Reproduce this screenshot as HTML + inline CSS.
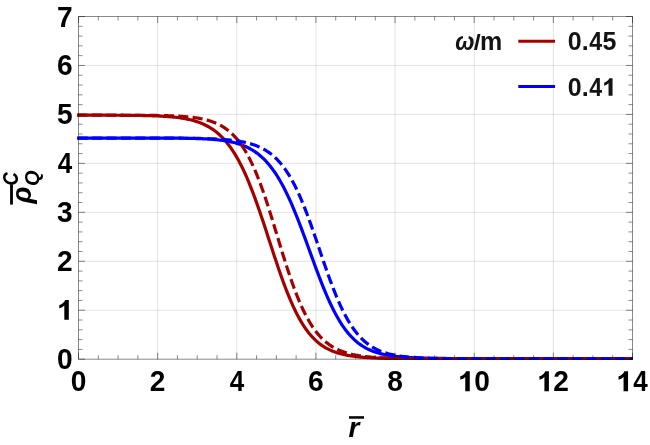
<!DOCTYPE html>
<html><head><meta charset="utf-8"><title>plot</title>
<style>html,body{margin:0;padding:0;background:#fff;width:650px;height:445px;overflow:hidden}body{position:relative;font-family:"Liberation Sans",sans-serif}</style></head>
<body>
<svg width="650" height="445" viewBox="0 0 650 445" style="position:absolute;left:0;top:0;will-change:transform">
<rect width="650" height="445" fill="#fff"/>
<path d="M157.64,16.5V359.2M236.79,16.5V359.2M315.93,16.5V359.2M395.07,16.5V359.2M474.21,16.5V359.2M553.36,16.5V359.2M78.5,310.24H632.5M78.5,261.29H632.5M78.5,212.33H632.5M78.5,163.37H632.5M78.5,114.41H632.5M78.5,65.46H632.5" stroke="#000" stroke-opacity="0.115" stroke-width="1" fill="none"/>
<clipPath id="c"><rect x="77.1" y="16.5" width="555.9" height="343.40"/></clipPath>
<g clip-path="url(#c)" fill="none" stroke-width="3.2" stroke-linejoin="round">
<path d="M77.00,115.19 L78.50,115.19 L79.49,115.19 L80.48,115.19 L81.47,115.19 L82.46,115.19 L83.45,115.19 L84.44,115.19 L85.42,115.20 L86.41,115.20 L87.40,115.20 L88.39,115.20 L89.38,115.20 L90.37,115.20 L91.36,115.20 L92.35,115.20 L93.34,115.20 L94.33,115.20 L95.32,115.20 L96.31,115.21 L97.30,115.21 L98.29,115.21 L99.28,115.21 L100.26,115.21 L101.25,115.21 L102.24,115.22 L103.23,115.22 L104.22,115.22 L105.21,115.22 L106.20,115.22 L107.19,115.23 L108.18,115.23 L109.17,115.23 L110.16,115.23 L111.15,115.24 L112.14,115.24 L113.12,115.24 L114.11,115.25 L115.10,115.25 L116.09,115.26 L117.08,115.26 L118.07,115.27 L119.06,115.27 L120.05,115.28 L121.04,115.28 L122.03,115.29 L123.02,115.29 L124.01,115.30 L125.00,115.31 L125.99,115.31 L126.97,115.32 L127.96,115.33 L128.95,115.34 L129.94,115.35 L130.93,115.36 L131.92,115.37 L132.91,115.38 L133.90,115.39 L134.89,115.40 L135.88,115.41 L136.87,115.43 L137.86,115.44 L138.85,115.46 L139.84,115.47 L140.82,115.49 L141.81,115.51 L142.80,115.53 L143.79,115.55 L144.78,115.57 L145.77,115.59 L146.76,115.61 L147.75,115.64 L148.74,115.66 L149.73,115.69 L150.72,115.72 L151.71,115.75 L152.70,115.78 L153.69,115.82 L154.68,115.85 L155.66,115.89 L156.65,115.93 L157.64,115.98 L158.63,116.02 L159.62,116.07 L160.61,116.12 L161.60,116.17 L162.59,116.23 L163.58,116.28 L164.57,116.35 L165.56,116.41 L166.55,116.48 L167.54,116.55 L168.52,116.63 L169.51,116.71 L170.50,116.79 L171.49,116.88 L172.48,116.97 L173.47,117.07 L174.46,117.17 L175.45,117.28 L176.44,117.40 L177.43,117.52 L178.42,117.64 L179.41,117.78 L180.40,117.92 L181.39,118.07 L182.38,118.22 L183.36,118.38 L184.35,118.56 L185.34,118.74 L186.33,118.93 L187.32,119.13 L188.31,119.33 L189.30,119.55 L190.29,119.78 L191.28,120.03 L192.27,120.28 L193.26,120.55 L194.25,120.83 L195.24,121.12 L196.22,121.43 L197.21,121.76 L198.20,122.09 L199.19,122.45 L200.18,122.82 L201.17,123.21 L202.16,123.62 L203.15,124.05 L204.14,124.50 L205.13,124.97 L206.12,125.46 L207.11,125.98 L208.10,126.52 L209.09,127.08 L210.07,127.67 L211.06,128.29 L212.05,128.93 L213.04,129.60 L214.03,130.30 L215.02,131.04 L216.01,131.80 L217.00,132.60 L217.99,133.43 L218.98,134.30 L219.97,135.20 L220.96,136.14 L221.95,137.12 L222.94,138.14 L223.93,139.20 L224.91,140.31 L225.90,141.45 L226.89,142.64 L227.88,143.88 L228.87,145.17 L229.86,146.50 L230.85,147.88 L231.84,149.31 L232.83,150.79 L233.82,152.32 L234.81,153.91 L235.80,155.55 L236.79,157.24 L237.78,158.99 L238.76,160.79 L239.75,162.65 L240.74,164.56 L241.73,166.53 L242.72,168.56 L243.71,170.64 L244.70,172.78 L245.69,174.98 L246.68,177.23 L247.67,179.54 L248.66,181.90 L249.65,184.31 L250.64,186.78 L251.62,189.30 L252.61,191.87 L253.60,194.48 L254.59,197.14 L255.58,199.85 L256.57,202.60 L257.56,205.39 L258.55,208.22 L259.54,211.08 L260.53,213.98 L261.52,216.90 L262.51,219.85 L263.50,222.83 L264.49,225.83 L265.48,228.84 L266.46,231.86 L267.45,234.90 L268.44,237.94 L269.43,240.99 L270.42,244.03 L271.41,247.08 L272.40,250.11 L273.39,253.13 L274.38,256.13 L275.37,259.12 L276.36,262.08 L277.35,265.02 L278.34,267.93 L279.32,270.81 L280.31,273.65 L281.30,276.46 L282.29,279.22 L283.28,281.94 L284.27,284.61 L285.26,287.24 L286.25,289.81 L287.24,292.33 L288.23,294.80 L289.22,297.22 L290.21,299.58 L291.20,301.87 L292.19,304.12 L293.18,306.30 L294.16,308.42 L295.15,310.48 L296.14,312.48 L297.13,314.42 L298.12,316.30 L299.11,318.12 L300.10,319.88 L301.09,321.58 L302.08,323.22 L303.07,324.81 L304.06,326.33 L305.05,327.80 L306.04,329.22 L307.02,330.58 L308.01,331.89 L309.00,333.14 L309.99,334.35 L310.98,335.50 L311.97,336.61 L312.96,337.67 L313.95,338.69 L314.94,339.66 L315.93,340.59 L316.92,341.48 L317.91,342.33 L318.90,343.14 L319.89,343.91 L320.88,344.65 L321.86,345.36 L322.85,346.03 L323.84,346.67 L324.83,347.28 L325.82,347.86 L326.81,348.41 L327.80,348.93 L328.79,349.43 L329.78,349.91 L330.77,350.36 L331.76,350.79 L332.75,351.20 L333.74,351.59 L334.73,351.96 L335.71,352.31 L336.70,352.64 L337.69,352.95 L338.68,353.25 L339.67,353.54 L340.66,353.81 L341.65,354.06 L342.64,354.31 L343.63,354.54 L344.62,354.75 L345.61,354.96 L346.60,355.16 L347.59,355.34 L348.57,355.52 L349.56,355.69 L350.55,355.85 L351.54,356.00 L352.53,356.14 L353.52,356.27 L354.51,356.40 L355.50,356.52 L356.49,356.64 L357.48,356.75 L358.47,356.85 L359.46,356.95 L360.45,357.04 L361.44,357.13 L362.43,357.21 L363.41,357.29 L364.40,357.36 L365.39,357.43 L366.38,357.50 L367.37,357.56 L368.36,357.62 L369.35,357.68 L370.34,357.74 L371.33,357.79 L372.32,357.84 L373.31,357.88 L374.30,357.93 L375.29,357.97 L376.27,358.01 L377.26,358.04 L378.25,358.08 L379.24,358.11 L380.23,358.14 L381.22,358.17 L382.21,358.20 L383.20,358.23 L384.19,358.26 L385.18,358.28 L386.17,358.30 L387.16,358.32 L388.15,358.35 L389.14,358.37 L390.12,358.38 L391.11,358.40 L392.10,358.42 L393.09,358.43 L394.08,358.45 L395.07,358.46 L396.06,358.48 L397.05,358.49 L398.04,358.50 L399.03,358.52 L400.02,358.53 L401.01,358.54 L402.00,358.55 L402.99,358.56 L403.97,358.57 L404.96,358.57 L405.95,358.58 L406.94,358.59 L407.93,358.60 L408.92,358.61 L409.91,358.61 L410.90,358.62 L411.89,358.62 L412.88,358.63 L413.87,358.64 L414.86,358.64 L415.85,358.65 L416.84,358.65 L417.83,358.66 L418.81,358.66 L419.80,358.66 L420.79,358.67 L421.78,358.67 L422.77,358.67 L423.76,358.68 L424.75,358.68 L425.74,358.68 L426.73,358.69 L427.72,358.69 L428.71,358.69 L429.70,358.70 L430.69,358.70 L431.68,358.70 L432.66,358.70 L433.65,358.70 L434.64,358.71 L435.63,358.71 L436.62,358.71 L437.61,358.71 L438.60,358.71 L439.59,358.71 L440.58,358.72 L441.57,358.72 L442.56,358.72 L443.55,358.72 L444.54,358.72 L445.52,358.72 L446.51,358.72 L447.50,358.73 L448.49,358.73 L449.48,358.73 L450.47,358.73 L451.46,358.73 L452.45,358.73 L453.44,358.73 L454.43,358.73 L455.42,358.73 L456.41,358.73 L457.40,358.73 L458.39,358.73 L459.38,358.73 L460.36,358.74 L461.35,358.74 L462.34,358.74 L463.33,358.74 L464.32,358.74 L465.31,358.74 L466.30,358.74 L467.29,358.74 L468.28,358.74 L469.27,358.74 L470.26,358.74 L471.25,358.74 L472.24,358.74 L473.23,358.74 L474.21,358.74 L475.20,358.74 L476.19,358.74 L477.18,358.74 L478.17,358.74 L479.16,358.74 L480.15,358.74 L481.14,358.74 L482.13,358.74 L483.12,358.74 L484.11,358.74 L485.10,358.74 L486.09,358.74 L487.08,358.74 L488.06,358.75 L489.05,358.75 L490.04,358.75 L491.03,358.75 L492.02,358.75 L493.01,358.75 L494.00,358.75 L494.99,358.75 L495.98,358.75 L496.97,358.75 L497.96,358.75 L498.95,358.75 L499.94,358.75 L500.93,358.75 L501.91,358.75 L502.90,358.75 L503.89,358.75 L504.88,358.75 L505.87,358.75 L506.86,358.75 L507.85,358.75 L508.84,358.75 L509.83,358.75 L510.82,358.75 L511.81,358.75 L512.80,358.75 L513.79,358.75 L514.77,358.75 L515.76,358.75 L516.75,358.75 L517.74,358.75 L518.73,358.75 L519.72,358.75 L520.71,358.75 L521.70,358.75 L522.69,358.75 L523.68,358.75 L524.67,358.75 L525.66,358.75 L526.65,358.75 L527.64,358.75 L528.62,358.75 L529.61,358.75 L530.60,358.75 L531.59,358.75 L532.58,358.75 L533.57,358.75 L534.56,358.75 L535.55,358.75 L536.54,358.75 L537.53,358.75 L538.52,358.75 L539.51,358.75 L540.50,358.75 L541.49,358.75 L542.48,358.75 L543.46,358.75 L544.45,358.75 L545.44,358.75 L546.43,358.75 L547.42,358.75 L548.41,358.75 L549.40,358.75 L550.39,358.75 L551.38,358.75 L552.37,358.75 L553.36,358.75 L554.35,358.75 L555.34,358.75 L556.33,358.75 L557.31,358.75 L558.30,358.75 L559.29,358.75 L560.28,358.75 L561.27,358.75 L562.26,358.75 L563.25,358.75 L564.24,358.75 L565.23,358.75 L566.22,358.75 L567.21,358.75 L568.20,358.75 L569.19,358.75 L570.17,358.75 L571.16,358.75 L572.15,358.75 L573.14,358.75 L574.13,358.75 L575.12,358.75 L576.11,358.75 L577.10,358.75 L578.09,358.75 L579.08,358.75 L580.07,358.75 L581.06,358.75 L582.05,358.75 L583.04,358.75 L584.02,358.75 L585.01,358.75 L586.00,358.75 L586.99,358.75 L587.98,358.75 L588.97,358.75 L589.96,358.75 L590.95,358.75 L591.94,358.75 L592.93,358.75 L593.92,358.75 L594.91,358.75 L595.90,358.75 L596.89,358.75 L597.88,358.75 L598.86,358.75 L599.85,358.75 L600.84,358.75 L601.83,358.75 L602.82,358.75 L603.81,358.75 L604.80,358.75 L605.79,358.75 L606.78,358.75 L607.77,358.75 L608.76,358.75 L609.75,358.75 L610.74,358.75 L611.73,358.75 L612.71,358.75 L613.70,358.75 L614.69,358.75 L615.68,358.75 L616.67,358.75 L617.66,358.75 L618.65,358.75 L619.64,358.75 L620.63,358.75 L621.62,358.75 L622.61,358.75 L623.60,358.75 L624.59,358.75 L625.58,358.75 L626.56,358.75 L627.55,358.75 L628.54,358.75 L629.53,358.75 L630.52,358.75 L631.51,358.75 L632.50,358.75" stroke="#a50000"/>
<path d="M77.00,138.03 L78.50,138.03 L79.49,138.03 L80.48,138.03 L81.47,138.03 L82.46,138.03 L83.45,138.03 L84.44,138.03 L85.42,138.03 L86.41,138.03 L87.40,138.03 L88.39,138.03 L89.38,138.03 L90.37,138.03 L91.36,138.03 L92.35,138.03 L93.34,138.03 L94.33,138.03 L95.32,138.03 L96.31,138.03 L97.30,138.03 L98.29,138.03 L99.28,138.03 L100.26,138.03 L101.25,138.03 L102.24,138.03 L103.23,138.03 L104.22,138.04 L105.21,138.04 L106.20,138.04 L107.19,138.04 L108.18,138.04 L109.17,138.04 L110.16,138.04 L111.15,138.04 L112.14,138.04 L113.12,138.04 L114.11,138.04 L115.10,138.04 L116.09,138.04 L117.08,138.04 L118.07,138.04 L119.06,138.04 L120.05,138.04 L121.04,138.04 L122.03,138.04 L123.02,138.04 L124.01,138.04 L125.00,138.04 L125.99,138.04 L126.97,138.04 L127.96,138.04 L128.95,138.04 L129.94,138.04 L130.93,138.04 L131.92,138.04 L132.91,138.04 L133.90,138.04 L134.89,138.04 L135.88,138.04 L136.87,138.04 L137.86,138.04 L138.85,138.04 L139.84,138.05 L140.82,138.05 L141.81,138.05 L142.80,138.05 L143.79,138.05 L144.78,138.05 L145.77,138.05 L146.76,138.05 L147.75,138.05 L148.74,138.06 L149.73,138.06 L150.72,138.06 L151.71,138.06 L152.70,138.06 L153.69,138.06 L154.68,138.07 L155.66,138.07 L156.65,138.07 L157.64,138.07 L158.63,138.08 L159.62,138.08 L160.61,138.08 L161.60,138.09 L162.59,138.09 L163.58,138.09 L164.57,138.10 L165.56,138.10 L166.55,138.11 L167.54,138.11 L168.52,138.12 L169.51,138.12 L170.50,138.13 L171.49,138.14 L172.48,138.14 L173.47,138.15 L174.46,138.16 L175.45,138.17 L176.44,138.17 L177.43,138.18 L178.42,138.19 L179.41,138.21 L180.40,138.22 L181.39,138.23 L182.38,138.24 L183.36,138.25 L184.35,138.27 L185.34,138.28 L186.33,138.30 L187.32,138.32 L188.31,138.34 L189.30,138.36 L190.29,138.38 L191.28,138.40 L192.27,138.42 L193.26,138.45 L194.25,138.47 L195.24,138.50 L196.22,138.53 L197.21,138.56 L198.20,138.60 L199.19,138.63 L200.18,138.67 L201.17,138.71 L202.16,138.75 L203.15,138.80 L204.14,138.84 L205.13,138.89 L206.12,138.95 L207.11,139.00 L208.10,139.06 L209.09,139.13 L210.07,139.19 L211.06,139.26 L212.05,139.34 L213.04,139.42 L214.03,139.50 L215.02,139.59 L216.01,139.68 L217.00,139.78 L217.99,139.88 L218.98,139.99 L219.97,140.10 L220.96,140.23 L221.95,140.35 L222.94,140.49 L223.93,140.63 L224.91,140.78 L225.90,140.94 L226.89,141.11 L227.88,141.28 L228.87,141.47 L229.86,141.66 L230.85,141.87 L231.84,142.08 L232.83,142.31 L233.82,142.55 L234.81,142.80 L235.80,143.07 L236.79,143.35 L237.78,143.64 L238.76,143.94 L239.75,144.27 L240.74,144.60 L241.73,144.96 L242.72,145.33 L243.71,145.72 L244.70,146.13 L245.69,146.56 L246.68,147.01 L247.67,147.48 L248.66,147.98 L249.65,148.49 L250.64,149.04 L251.62,149.60 L252.61,150.19 L253.60,150.81 L254.59,151.46 L255.58,152.13 L256.57,152.84 L257.56,153.57 L258.55,154.34 L259.54,155.14 L260.53,155.97 L261.52,156.84 L262.51,157.74 L263.50,158.68 L264.49,159.66 L265.48,160.68 L266.46,161.74 L267.45,162.84 L268.44,163.98 L269.43,165.16 L270.42,166.38 L271.41,167.65 L272.40,168.97 L273.39,170.33 L274.38,171.74 L275.37,173.20 L276.36,174.70 L277.35,176.25 L278.34,177.85 L279.32,179.51 L280.31,181.21 L281.30,182.96 L282.29,184.76 L283.28,186.61 L284.27,188.51 L285.26,190.46 L286.25,192.45 L287.24,194.50 L288.23,196.60 L289.22,198.74 L290.21,200.93 L291.20,203.16 L292.19,205.44 L293.18,207.77 L294.16,210.13 L295.15,212.53 L296.14,214.98 L297.13,217.46 L298.12,219.97 L299.11,222.51 L300.10,225.09 L301.09,227.69 L302.08,230.32 L303.07,232.97 L304.06,235.64 L305.05,238.33 L306.04,241.03 L307.02,243.74 L308.01,246.46 L309.00,249.18 L309.99,251.91 L310.98,254.64 L311.97,257.36 L312.96,260.07 L313.95,262.77 L314.94,265.46 L315.93,268.13 L316.92,270.78 L317.91,273.41 L318.90,276.02 L319.89,278.59 L320.88,281.14 L321.86,283.65 L322.85,286.12 L323.84,288.56 L324.83,290.96 L325.82,293.31 L326.81,295.63 L327.80,297.89 L328.79,300.11 L329.78,302.28 L330.77,304.40 L331.76,306.47 L332.75,308.49 L333.74,310.46 L334.73,312.37 L335.71,314.23 L336.70,316.04 L337.69,317.80 L338.68,319.50 L339.67,321.15 L340.66,322.74 L341.65,324.28 L342.64,325.77 L343.63,327.21 L344.62,328.60 L345.61,329.94 L346.60,331.22 L347.59,332.46 L348.57,333.66 L349.56,334.80 L350.55,335.90 L351.54,336.96 L352.53,337.97 L353.52,338.94 L354.51,339.88 L355.50,340.77 L356.49,341.62 L357.48,342.44 L358.47,343.22 L359.46,343.96 L360.45,344.67 L361.44,345.35 L362.43,346.00 L363.41,346.62 L364.40,347.21 L365.39,347.77 L366.38,348.31 L367.37,348.82 L368.36,349.31 L369.35,349.77 L370.34,350.21 L371.33,350.63 L372.32,351.03 L373.31,351.41 L374.30,351.77 L375.29,352.11 L376.27,352.44 L377.26,352.75 L378.25,353.04 L379.24,353.32 L380.23,353.59 L381.22,353.84 L382.21,354.08 L383.20,354.31 L384.19,354.53 L385.18,354.73 L386.17,354.93 L387.16,355.11 L388.15,355.29 L389.14,355.45 L390.12,355.61 L391.11,355.76 L392.10,355.91 L393.09,356.04 L394.08,356.17 L395.07,356.29 L396.06,356.41 L397.05,356.52 L398.04,356.62 L399.03,356.72 L400.02,356.82 L401.01,356.91 L402.00,356.99 L402.99,357.07 L403.97,357.15 L404.96,357.22 L405.95,357.29 L406.94,357.36 L407.93,357.42 L408.92,357.48 L409.91,357.54 L410.90,357.59 L411.89,357.64 L412.88,357.69 L413.87,357.74 L414.86,357.78 L415.85,357.82 L416.84,357.86 L417.83,357.90 L418.81,357.94 L419.80,357.97 L420.79,358.00 L421.78,358.03 L422.77,358.06 L423.76,358.09 L424.75,358.12 L425.74,358.14 L426.73,358.17 L427.72,358.19 L428.71,358.21 L429.70,358.24 L430.69,358.26 L431.68,358.28 L432.66,358.29 L433.65,358.31 L434.64,358.33 L435.63,358.34 L436.62,358.36 L437.61,358.37 L438.60,358.39 L439.59,358.40 L440.58,358.41 L441.57,358.43 L442.56,358.44 L443.55,358.45 L444.54,358.46 L445.52,358.47 L446.51,358.48 L447.50,358.49 L448.49,358.50 L449.48,358.51 L450.47,358.51 L451.46,358.52 L452.45,358.53 L453.44,358.54 L454.43,358.54 L455.42,358.55 L456.41,358.56 L457.40,358.56 L458.39,358.57 L459.38,358.57 L460.36,358.58 L461.35,358.59 L462.34,358.59 L463.33,358.60 L464.32,358.60 L465.31,358.60 L466.30,358.61 L467.29,358.61 L468.28,358.62 L469.27,358.62 L470.26,358.62 L471.25,358.63 L472.24,358.63 L473.23,358.63 L474.21,358.64 L475.20,358.64 L476.19,358.64 L477.18,358.65 L478.17,358.65 L479.16,358.65 L480.15,358.65 L481.14,358.66 L482.13,358.66 L483.12,358.66 L484.11,358.66 L485.10,358.66 L486.09,358.67 L487.08,358.67 L488.06,358.67 L489.05,358.67 L490.04,358.67 L491.03,358.67 L492.02,358.68 L493.01,358.68 L494.00,358.68 L494.99,358.68 L495.98,358.68 L496.97,358.68 L497.96,358.68 L498.95,358.69 L499.94,358.69 L500.93,358.69 L501.91,358.69 L502.90,358.69 L503.89,358.69 L504.88,358.69 L505.87,358.69 L506.86,358.69 L507.85,358.69 L508.84,358.70 L509.83,358.70 L510.82,358.70 L511.81,358.70 L512.80,358.70 L513.79,358.70 L514.77,358.70 L515.76,358.70 L516.75,358.70 L517.74,358.70 L518.73,358.70 L519.72,358.70 L520.71,358.70 L521.70,358.70 L522.69,358.70 L523.68,358.71 L524.67,358.71 L525.66,358.71 L526.65,358.71 L527.64,358.71 L528.62,358.71 L529.61,358.71 L530.60,358.71 L531.59,358.71 L532.58,358.71 L533.57,358.71 L534.56,358.71 L535.55,358.71 L536.54,358.71 L537.53,358.71 L538.52,358.71 L539.51,358.71 L540.50,358.71 L541.49,358.71 L542.48,358.71 L543.46,358.71 L544.45,358.71 L545.44,358.71 L546.43,358.71 L547.42,358.71 L548.41,358.71 L549.40,358.71 L550.39,358.71 L551.38,358.71 L552.37,358.71 L553.36,358.71 L554.35,358.71 L555.34,358.71 L556.33,358.71 L557.31,358.71 L558.30,358.71 L559.29,358.71 L560.28,358.71 L561.27,358.71 L562.26,358.71 L563.25,358.71 L564.24,358.71 L565.23,358.71 L566.22,358.71 L567.21,358.71 L568.20,358.71 L569.19,358.71 L570.17,358.71 L571.16,358.71 L572.15,358.71 L573.14,358.71 L574.13,358.71 L575.12,358.71 L576.11,358.71 L577.10,358.71 L578.09,358.71 L579.08,358.71 L580.07,358.71 L581.06,358.71 L582.05,358.71 L583.04,358.71 L584.02,358.71 L585.01,358.71 L586.00,358.71 L586.99,358.70 L587.98,358.70 L588.97,358.70 L589.96,358.70 L590.95,358.70 L591.94,358.70 L592.93,358.70 L593.92,358.70 L594.91,358.70 L595.90,358.70 L596.89,358.70 L597.88,358.70 L598.86,358.70 L599.85,358.70 L600.84,358.70 L601.83,358.70 L602.82,358.69 L603.81,358.69 L604.80,358.69 L605.79,358.69 L606.78,358.69 L607.77,358.69 L608.76,358.69 L609.75,358.69 L610.74,358.69 L611.73,358.68 L612.71,358.68 L613.70,358.68 L614.69,358.68 L615.68,358.68 L616.67,358.68 L617.66,358.68 L618.65,358.68 L619.64,358.67 L620.63,358.67 L621.62,358.67 L622.61,358.67 L623.60,358.67 L624.59,358.66 L625.58,358.66 L626.56,358.66 L627.55,358.66 L628.54,358.66 L629.53,358.65 L630.52,358.65 L631.51,358.65 L632.50,358.65" stroke="#0000ff"/>
<path d="M77.00,115.19 L78.50,115.19 L79.49,115.19 L80.48,115.19 L81.47,115.19 L82.46,115.19 L83.45,115.19 L84.44,115.19 L85.42,115.19 L86.41,115.19 L87.40,115.19 L88.39,115.19 L89.38,115.19 L90.37,115.19 L91.36,115.19 L92.35,115.19 L93.34,115.19 L94.33,115.19 L95.32,115.19 L96.31,115.19 L97.30,115.19 L98.29,115.19 L99.28,115.19 L100.26,115.19 L101.25,115.19 L102.24,115.20 L103.23,115.20 L104.22,115.20 L105.21,115.20 L106.20,115.20 L107.19,115.20 L108.18,115.20 L109.17,115.20 L110.16,115.20 L111.15,115.20 L112.14,115.20 L113.12,115.21 L114.11,115.21 L115.10,115.21 L116.09,115.21 L117.08,115.21 L118.07,115.21 L119.06,115.21 L120.05,115.22 L121.04,115.22 L122.03,115.22 L123.02,115.22 L124.01,115.23 L125.00,115.23 L125.99,115.23 L126.97,115.23 L127.96,115.24 L128.95,115.24 L129.94,115.24 L130.93,115.25 L131.92,115.25 L132.91,115.25 L133.90,115.26 L134.89,115.26 L135.88,115.27 L136.87,115.27 L137.86,115.28 L138.85,115.28 L139.84,115.29 L140.82,115.30 L141.81,115.30 L142.80,115.31 L143.79,115.32 L144.78,115.32 L145.77,115.33 L146.76,115.34 L147.75,115.35 L148.74,115.36 L149.73,115.37 L150.72,115.38 L151.71,115.39 L152.70,115.41 L153.69,115.42 L154.68,115.43 L155.66,115.45 L156.65,115.46 L157.64,115.48 L158.63,115.50 L159.62,115.52 L160.61,115.54 L161.60,115.56 L162.59,115.58 L163.58,115.60 L164.57,115.63 L165.56,115.65 L166.55,115.68 L167.54,115.71 L168.52,115.74 L169.51,115.77 L170.50,115.81 L171.49,115.85 L172.48,115.88 L173.47,115.92 L174.46,115.97 L175.45,116.01 L176.44,116.06 L177.43,116.11 L178.42,116.17 L179.41,116.22 L180.40,116.28 L181.39,116.35 L182.38,116.42 L183.36,116.49 L184.35,116.56 L185.34,116.64 L186.33,116.73 L187.32,116.82 L188.31,116.91 L189.30,117.01 L190.29,117.11 L191.28,117.22 L192.27,117.34 L193.26,117.46 L194.25,117.59 L195.24,117.73 L196.22,117.88 L197.21,118.03 L198.20,118.19 L199.19,118.36 L200.18,118.54 L201.17,118.73 L202.16,118.93 L203.15,119.15 L204.14,119.37 L205.13,119.61 L206.12,119.85 L207.11,120.12 L208.10,120.39 L209.09,120.68 L210.07,120.99 L211.06,121.31 L212.05,121.65 L213.04,122.01 L214.03,122.39 L215.02,122.78 L216.01,123.20 L217.00,123.64 L217.99,124.10 L218.98,124.59 L219.97,125.10 L220.96,125.64 L221.95,126.20 L222.94,126.80 L223.93,127.42 L224.91,128.08 L225.90,128.76 L226.89,129.49 L227.88,130.24 L228.87,131.04 L229.86,131.87 L230.85,132.74 L231.84,133.65 L232.83,134.61 L233.82,135.61 L234.81,136.65 L235.80,137.75 L236.79,138.89 L237.78,140.08 L238.76,141.33 L239.75,142.63 L240.74,143.98 L241.73,145.39 L242.72,146.86 L243.71,148.39 L244.70,149.98 L245.69,151.63 L246.68,153.34 L247.67,155.12 L248.66,156.96 L249.65,158.87 L250.64,160.85 L251.62,162.89 L252.61,165.00 L253.60,167.17 L254.59,169.42 L255.58,171.73 L256.57,174.11 L257.56,176.55 L258.55,179.06 L259.54,181.64 L260.53,184.28 L261.52,186.97 L262.51,189.73 L263.50,192.54 L264.49,195.41 L265.48,198.34 L266.46,201.31 L267.45,204.32 L268.44,207.38 L269.43,210.48 L270.42,213.62 L271.41,216.78 L272.40,219.98 L273.39,223.19 L274.38,226.43 L275.37,229.68 L276.36,232.94 L277.35,236.20 L278.34,239.47 L279.32,242.73 L280.31,245.98 L281.30,249.22 L282.29,252.44 L283.28,255.63 L284.27,258.81 L285.26,261.95 L286.25,265.05 L287.24,268.12 L288.23,271.14 L289.22,274.12 L290.21,277.05 L291.20,279.93 L292.19,282.75 L293.18,285.52 L294.16,288.23 L295.15,290.88 L296.14,293.46 L297.13,295.99 L298.12,298.44 L299.11,300.83 L300.10,303.16 L301.09,305.42 L302.08,307.61 L303.07,309.73 L304.06,311.79 L305.05,313.78 L306.04,315.70 L307.02,317.56 L308.01,319.35 L309.00,321.08 L309.99,322.75 L310.98,324.35 L311.97,325.90 L312.96,327.38 L313.95,328.81 L314.94,330.18 L315.93,331.49 L316.92,332.75 L317.91,333.96 L318.90,335.12 L319.89,336.23 L320.88,337.29 L321.86,338.31 L322.85,339.28 L323.84,340.21 L324.83,341.10 L325.82,341.95 L326.81,342.76 L327.80,343.53 L328.79,344.27 L329.78,344.98 L330.77,345.65 L331.76,346.29 L332.75,346.90 L333.74,347.48 L334.73,348.03 L335.71,348.56 L336.70,349.07 L337.69,349.54 L338.68,350.00 L339.67,350.43 L340.66,350.85 L341.65,351.24 L342.64,351.61 L343.63,351.97 L344.62,352.31 L345.61,352.63 L346.60,352.93 L347.59,353.22 L348.57,353.50 L349.56,353.76 L350.55,354.01 L351.54,354.25 L352.53,354.47 L353.52,354.69 L354.51,354.89 L355.50,355.08 L356.49,355.27 L357.48,355.44 L358.47,355.61 L359.46,355.77 L360.45,355.91 L361.44,356.06 L362.43,356.19 L363.41,356.32 L364.40,356.44 L365.39,356.56 L366.38,356.67 L367.37,356.77 L368.36,356.87 L369.35,356.96 L370.34,357.05 L371.33,357.14 L372.32,357.22 L373.31,357.29 L374.30,357.37 L375.29,357.44 L376.27,357.50 L377.26,357.56 L378.25,357.62 L379.24,357.68 L380.23,357.73 L381.22,357.78 L382.21,357.83 L383.20,357.88 L384.19,357.92 L385.18,357.96 L386.17,358.00 L387.16,358.04 L388.15,358.07 L389.14,358.11 L390.12,358.14 L391.11,358.17 L392.10,358.20 L393.09,358.22 L394.08,358.25 L395.07,358.28 L396.06,358.30 L397.05,358.32 L398.04,358.34 L399.03,358.36 L400.02,358.38 L401.01,358.40 L402.00,358.42 L402.99,358.43 L403.97,358.45 L404.96,358.46 L405.95,358.48 L406.94,358.49 L407.93,358.50 L408.92,358.52 L409.91,358.53 L410.90,358.54 L411.89,358.55 L412.88,358.56 L413.87,358.57 L414.86,358.58 L415.85,358.58 L416.84,358.59 L417.83,358.60 L418.81,358.61 L419.80,358.61 L420.79,358.62 L421.78,358.63 L422.77,358.63 L423.76,358.64 L424.75,358.64 L425.74,358.65 L426.73,358.65 L427.72,358.66 L428.71,358.66 L429.70,358.67 L430.69,358.67 L431.68,358.68 L432.66,358.68 L433.65,358.68 L434.64,358.69 L435.63,358.69 L436.62,358.69 L437.61,358.69 L438.60,358.70 L439.59,358.70 L440.58,358.70 L441.57,358.70 L442.56,358.71 L443.55,358.71 L444.54,358.71 L445.52,358.71 L446.51,358.71 L447.50,358.72 L448.49,358.72 L449.48,358.72 L450.47,358.72 L451.46,358.72 L452.45,358.72 L453.44,358.72 L454.43,358.73 L455.42,358.73 L456.41,358.73 L457.40,358.73 L458.39,358.73 L459.38,358.73 L460.36,358.73 L461.35,358.73 L462.34,358.73 L463.33,358.73 L464.32,358.73 L465.31,358.74 L466.30,358.74 L467.29,358.74 L468.28,358.74 L469.27,358.74 L470.26,358.74 L471.25,358.74 L472.24,358.74 L473.23,358.74 L474.21,358.74 L475.20,358.74 L476.19,358.74 L477.18,358.74 L478.17,358.74 L479.16,358.74 L480.15,358.74 L481.14,358.74 L482.13,358.74 L483.12,358.74 L484.11,358.74 L485.10,358.74 L486.09,358.74 L487.08,358.74 L488.06,358.75 L489.05,358.75 L490.04,358.75 L491.03,358.75 L492.02,358.75 L493.01,358.75 L494.00,358.75 L494.99,358.75 L495.98,358.75 L496.97,358.75 L497.96,358.75 L498.95,358.75 L499.94,358.75 L500.93,358.75 L501.91,358.75 L502.90,358.75 L503.89,358.75 L504.88,358.75 L505.87,358.75 L506.86,358.75 L507.85,358.75 L508.84,358.75 L509.83,358.75 L510.82,358.75 L511.81,358.75 L512.80,358.75 L513.79,358.75 L514.77,358.75 L515.76,358.75 L516.75,358.75 L517.74,358.75 L518.73,358.75 L519.72,358.75 L520.71,358.75 L521.70,358.75 L522.69,358.75 L523.68,358.75 L524.67,358.75 L525.66,358.75 L526.65,358.75 L527.64,358.75 L528.62,358.75 L529.61,358.75 L530.60,358.75 L531.59,358.75 L532.58,358.75 L533.57,358.75 L534.56,358.75 L535.55,358.75 L536.54,358.75 L537.53,358.75 L538.52,358.75 L539.51,358.75 L540.50,358.75 L541.49,358.75 L542.48,358.75 L543.46,358.75 L544.45,358.75 L545.44,358.75 L546.43,358.75 L547.42,358.75 L548.41,358.75 L549.40,358.75 L550.39,358.75 L551.38,358.75 L552.37,358.75 L553.36,358.75 L554.35,358.75 L555.34,358.75 L556.33,358.75 L557.31,358.75 L558.30,358.75 L559.29,358.75 L560.28,358.75 L561.27,358.75 L562.26,358.75 L563.25,358.75 L564.24,358.75 L565.23,358.75 L566.22,358.75 L567.21,358.75 L568.20,358.75 L569.19,358.75 L570.17,358.75 L571.16,358.75 L572.15,358.75 L573.14,358.75 L574.13,358.75 L575.12,358.75 L576.11,358.75 L577.10,358.75 L578.09,358.75 L579.08,358.75 L580.07,358.75 L581.06,358.75 L582.05,358.75 L583.04,358.75 L584.02,358.75 L585.01,358.75 L586.00,358.75 L586.99,358.75 L587.98,358.75 L588.97,358.75 L589.96,358.75 L590.95,358.75 L591.94,358.75 L592.93,358.75 L593.92,358.75 L594.91,358.75 L595.90,358.75 L596.89,358.75 L597.88,358.75 L598.86,358.75 L599.85,358.75 L600.84,358.75 L601.83,358.75 L602.82,358.75 L603.81,358.75 L604.80,358.75 L605.79,358.75 L606.78,358.75 L607.77,358.75 L608.76,358.75 L609.75,358.75 L610.74,358.75 L611.73,358.75 L612.71,358.75 L613.70,358.75 L614.69,358.75 L615.68,358.75 L616.67,358.75 L617.66,358.75 L618.65,358.75 L619.64,358.75 L620.63,358.75 L621.62,358.75 L622.61,358.75 L623.60,358.75 L624.59,358.75 L625.58,358.75 L626.56,358.75 L627.55,358.75 L628.54,358.75 L629.53,358.75 L630.52,358.75 L631.51,358.75 L632.50,358.75" stroke="#a50000" stroke-dasharray="10.1,4.3" stroke-dashoffset="13.95"/>
<path d="M77.00,138.04 L78.50,138.04 L79.49,138.04 L80.48,138.04 L81.47,138.04 L82.46,138.04 L83.45,138.04 L84.44,138.04 L85.42,138.04 L86.41,138.04 L87.40,138.04 L88.39,138.04 L89.38,138.04 L90.37,138.04 L91.36,138.04 L92.35,138.04 L93.34,138.04 L94.33,138.04 L95.32,138.04 L96.31,138.04 L97.30,138.04 L98.29,138.04 L99.28,138.04 L100.26,138.04 L101.25,138.04 L102.24,138.04 L103.23,138.04 L104.22,138.04 L105.21,138.04 L106.20,138.04 L107.19,138.04 L108.18,138.04 L109.17,138.04 L110.16,138.04 L111.15,138.04 L112.14,138.04 L113.12,138.04 L114.11,138.04 L115.10,138.04 L116.09,138.04 L117.08,138.04 L118.07,138.04 L119.06,138.04 L120.05,138.04 L121.04,138.04 L122.03,138.04 L123.02,138.04 L124.01,138.04 L125.00,138.04 L125.99,138.04 L126.97,138.04 L127.96,138.05 L128.95,138.05 L129.94,138.05 L130.93,138.05 L131.92,138.05 L132.91,138.05 L133.90,138.05 L134.89,138.05 L135.88,138.05 L136.87,138.05 L137.86,138.05 L138.85,138.05 L139.84,138.05 L140.82,138.06 L141.81,138.06 L142.80,138.06 L143.79,138.06 L144.78,138.06 L145.77,138.06 L146.76,138.06 L147.75,138.06 L148.74,138.07 L149.73,138.07 L150.72,138.07 L151.71,138.07 L152.70,138.07 L153.69,138.07 L154.68,138.08 L155.66,138.08 L156.65,138.08 L157.64,138.08 L158.63,138.09 L159.62,138.09 L160.61,138.09 L161.60,138.09 L162.59,138.10 L163.58,138.10 L164.57,138.10 L165.56,138.11 L166.55,138.11 L167.54,138.12 L168.52,138.12 L169.51,138.12 L170.50,138.13 L171.49,138.13 L172.48,138.14 L173.47,138.14 L174.46,138.15 L175.45,138.16 L176.44,138.16 L177.43,138.17 L178.42,138.18 L179.41,138.18 L180.40,138.19 L181.39,138.20 L182.38,138.21 L183.36,138.22 L184.35,138.23 L185.34,138.24 L186.33,138.25 L187.32,138.26 L188.31,138.27 L189.30,138.28 L190.29,138.29 L191.28,138.31 L192.27,138.32 L193.26,138.34 L194.25,138.35 L195.24,138.37 L196.22,138.39 L197.21,138.41 L198.20,138.43 L199.19,138.45 L200.18,138.47 L201.17,138.49 L202.16,138.51 L203.15,138.54 L204.14,138.56 L205.13,138.59 L206.12,138.62 L207.11,138.65 L208.10,138.68 L209.09,138.72 L210.07,138.75 L211.06,138.79 L212.05,138.83 L213.04,138.87 L214.03,138.92 L215.02,138.96 L216.01,139.01 L217.00,139.06 L217.99,139.12 L218.98,139.17 L219.97,139.23 L220.96,139.29 L221.95,139.36 L222.94,139.43 L223.93,139.50 L224.91,139.58 L225.90,139.66 L226.89,139.74 L227.88,139.83 L228.87,139.93 L229.86,140.03 L230.85,140.13 L231.84,140.24 L232.83,140.35 L233.82,140.48 L234.81,140.60 L235.80,140.74 L236.79,140.88 L237.78,141.03 L238.76,141.18 L239.75,141.35 L240.74,141.52 L241.73,141.70 L242.72,141.89 L243.71,142.09 L244.70,142.30 L245.69,142.52 L246.68,142.75 L247.67,143.00 L248.66,143.26 L249.65,143.53 L250.64,143.81 L251.62,144.11 L252.61,144.42 L253.60,144.75 L254.59,145.09 L255.58,145.46 L256.57,145.84 L257.56,146.24 L258.55,146.65 L259.54,147.09 L260.53,147.56 L261.52,148.04 L262.51,148.55 L263.50,149.08 L264.49,149.64 L265.48,150.22 L266.46,150.83 L267.45,151.47 L268.44,152.14 L269.43,152.85 L270.42,153.58 L271.41,154.35 L272.40,155.15 L273.39,155.99 L274.38,156.87 L275.37,157.79 L276.36,158.74 L277.35,159.74 L278.34,160.79 L279.32,161.87 L280.31,163.00 L281.30,164.18 L282.29,165.41 L283.28,166.69 L284.27,168.01 L285.26,169.39 L286.25,170.83 L287.24,172.31 L288.23,173.86 L289.22,175.45 L290.21,177.11 L291.20,178.82 L292.19,180.59 L293.18,182.42 L294.16,184.31 L295.15,186.25 L296.14,188.26 L297.13,190.33 L298.12,192.45 L299.11,194.63 L300.10,196.87 L301.09,199.16 L302.08,201.51 L303.07,203.92 L304.06,206.38 L305.05,208.88 L306.04,211.44 L307.02,214.04 L308.01,216.69 L309.00,219.38 L309.99,222.10 L310.98,224.87 L311.97,227.66 L312.96,230.48 L313.95,233.33 L314.94,236.20 L315.93,239.09 L316.92,242.00 L317.91,244.91 L318.90,247.83 L319.89,250.75 L320.88,253.67 L321.86,256.58 L322.85,259.48 L323.84,262.37 L324.83,265.24 L325.82,268.09 L326.81,270.91 L327.80,273.71 L328.79,276.47 L329.78,279.19 L330.77,281.88 L331.76,284.52 L332.75,287.12 L333.74,289.67 L334.73,292.18 L335.71,294.63 L336.70,297.03 L337.69,299.37 L338.68,301.66 L339.67,303.89 L340.66,306.06 L341.65,308.17 L342.64,310.23 L343.63,312.22 L344.62,314.16 L345.61,316.03 L346.60,317.85 L347.59,319.60 L348.57,321.30 L349.56,322.94 L350.55,324.52 L351.54,326.04 L352.53,327.51 L353.52,328.92 L354.51,330.28 L355.50,331.59 L356.49,332.84 L357.48,334.05 L358.47,335.20 L359.46,336.31 L360.45,337.37 L361.44,338.39 L362.43,339.37 L363.41,340.30 L364.40,341.19 L365.39,342.04 L366.38,342.86 L367.37,343.64 L368.36,344.38 L369.35,345.09 L370.34,345.77 L371.33,346.41 L372.32,347.03 L373.31,347.61 L374.30,348.17 L375.29,348.70 L376.27,349.21 L377.26,349.69 L378.25,350.15 L379.24,350.59 L380.23,351.01 L381.22,351.40 L382.21,351.78 L383.20,352.13 L384.19,352.47 L385.18,352.80 L386.17,353.10 L387.16,353.40 L388.15,353.67 L389.14,353.94 L390.12,354.19 L391.11,354.42 L392.10,354.65 L393.09,354.86 L394.08,355.06 L395.07,355.26 L396.06,355.44 L397.05,355.61 L398.04,355.78 L399.03,355.93 L400.02,356.08 L401.01,356.22 L402.00,356.35 L402.99,356.48 L403.97,356.60 L404.96,356.71 L405.95,356.82 L406.94,356.92 L407.93,357.02 L408.92,357.11 L409.91,357.20 L410.90,357.28 L411.89,357.36 L412.88,357.43 L413.87,357.50 L414.86,357.57 L415.85,357.63 L416.84,357.69 L417.83,357.75 L418.81,357.80 L419.80,357.85 L420.79,357.90 L421.78,357.94 L422.77,357.99 L423.76,358.03 L424.75,358.07 L425.74,358.10 L426.73,358.14 L427.72,358.17 L428.71,358.20 L429.70,358.23 L430.69,358.26 L431.68,358.28 L432.66,358.31 L433.65,358.33 L434.64,358.36 L435.63,358.38 L436.62,358.40 L437.61,358.42 L438.60,358.43 L439.59,358.45 L440.58,358.47 L441.57,358.48 L442.56,358.50 L443.55,358.51 L444.54,358.52 L445.52,358.54 L446.51,358.55 L447.50,358.56 L448.49,358.57 L449.48,358.58 L450.47,358.59 L451.46,358.60 L452.45,358.60 L453.44,358.61 L454.43,358.62 L455.42,358.63 L456.41,358.63 L457.40,358.64 L458.39,358.65 L459.38,358.65 L460.36,358.66 L461.35,358.66 L462.34,358.67 L463.33,358.67 L464.32,358.68 L465.31,358.68 L466.30,358.68 L467.29,358.69 L468.28,358.69 L469.27,358.69 L470.26,358.70 L471.25,358.70 L472.24,358.70 L473.23,358.70 L474.21,358.71 L475.20,358.71 L476.19,358.71 L477.18,358.71 L478.17,358.72 L479.16,358.72 L480.15,358.72 L481.14,358.72 L482.13,358.72 L483.12,358.72 L484.11,358.73 L485.10,358.73 L486.09,358.73 L487.08,358.73 L488.06,358.73 L489.05,358.73 L490.04,358.73 L491.03,358.73 L492.02,358.73 L493.01,358.74 L494.00,358.74 L494.99,358.74 L495.98,358.74 L496.97,358.74 L497.96,358.74 L498.95,358.74 L499.94,358.74 L500.93,358.74 L501.91,358.74 L502.90,358.74 L503.89,358.74 L504.88,358.74 L505.87,358.74 L506.86,358.74 L507.85,358.74 L508.84,358.74 L509.83,358.74 L510.82,358.74 L511.81,358.74 L512.80,358.75 L513.79,358.75 L514.77,358.75 L515.76,358.75 L516.75,358.75 L517.74,358.75 L518.73,358.75 L519.72,358.75 L520.71,358.75 L521.70,358.75 L522.69,358.75 L523.68,358.75 L524.67,358.75 L525.66,358.75 L526.65,358.75 L527.64,358.75 L528.62,358.75 L529.61,358.75 L530.60,358.75 L531.59,358.75 L532.58,358.75 L533.57,358.75 L534.56,358.75 L535.55,358.75 L536.54,358.75 L537.53,358.75 L538.52,358.75 L539.51,358.75 L540.50,358.75 L541.49,358.75 L542.48,358.75 L543.46,358.75 L544.45,358.75 L545.44,358.75 L546.43,358.75 L547.42,358.75 L548.41,358.75 L549.40,358.75 L550.39,358.75 L551.38,358.75 L552.37,358.75 L553.36,358.75 L554.35,358.75 L555.34,358.75 L556.33,358.75 L557.31,358.75 L558.30,358.75 L559.29,358.75 L560.28,358.75 L561.27,358.75 L562.26,358.75 L563.25,358.75 L564.24,358.75 L565.23,358.75 L566.22,358.75 L567.21,358.75 L568.20,358.75 L569.19,358.75 L570.17,358.75 L571.16,358.75 L572.15,358.75 L573.14,358.75 L574.13,358.75 L575.12,358.75 L576.11,358.75 L577.10,358.75 L578.09,358.75 L579.08,358.75 L580.07,358.75 L581.06,358.75 L582.05,358.75 L583.04,358.75 L584.02,358.75 L585.01,358.75 L586.00,358.75 L586.99,358.75 L587.98,358.75 L588.97,358.75 L589.96,358.75 L590.95,358.75 L591.94,358.75 L592.93,358.75 L593.92,358.75 L594.91,358.75 L595.90,358.75 L596.89,358.75 L597.88,358.75 L598.86,358.75 L599.85,358.75 L600.84,358.75 L601.83,358.75 L602.82,358.75 L603.81,358.75 L604.80,358.75 L605.79,358.75 L606.78,358.75 L607.77,358.75 L608.76,358.75 L609.75,358.75 L610.74,358.75 L611.73,358.75 L612.71,358.75 L613.70,358.75 L614.69,358.75 L615.68,358.75 L616.67,358.75 L617.66,358.75 L618.65,358.75 L619.64,358.75 L620.63,358.75 L621.62,358.75 L622.61,358.75 L623.60,358.75 L624.59,358.75 L625.58,358.75 L626.56,358.75 L627.55,358.75 L628.54,358.75 L629.53,358.75 L630.52,358.75 L631.51,358.75 L632.50,358.75" stroke="#0000ff" stroke-dasharray="10.1,4.3" stroke-dashoffset="13.75"/>
</g>
<path d="M78.50,359.2v-6.5M78.50,16.5v6.5M98.29,359.2v-4M98.29,16.5v4M118.07,359.2v-4M118.07,16.5v4M137.86,359.2v-4M137.86,16.5v4M157.64,359.2v-6.5M157.64,16.5v6.5M177.43,359.2v-4M177.43,16.5v4M197.21,359.2v-4M197.21,16.5v4M217.00,359.2v-4M217.00,16.5v4M236.79,359.2v-6.5M236.79,16.5v6.5M256.57,359.2v-4M256.57,16.5v4M276.36,359.2v-4M276.36,16.5v4M296.14,359.2v-4M296.14,16.5v4M315.93,359.2v-6.5M315.93,16.5v6.5M335.71,359.2v-4M335.71,16.5v4M355.50,359.2v-4M355.50,16.5v4M375.29,359.2v-4M375.29,16.5v4M395.07,359.2v-6.5M395.07,16.5v6.5M414.86,359.2v-4M414.86,16.5v4M434.64,359.2v-4M434.64,16.5v4M454.43,359.2v-4M454.43,16.5v4M474.21,359.2v-6.5M474.21,16.5v6.5M494.00,359.2v-4M494.00,16.5v4M513.79,359.2v-4M513.79,16.5v4M533.57,359.2v-4M533.57,16.5v4M553.36,359.2v-6.5M553.36,16.5v6.5M573.14,359.2v-4M573.14,16.5v4M592.93,359.2v-4M592.93,16.5v4M612.71,359.2v-4M612.71,16.5v4M632.50,359.2v-6.5M632.50,16.5v6.5M78.5,359.20h6.5M632.5,359.20h-6.5M78.5,349.41h4M632.5,349.41h-4M78.5,339.62h4M632.5,339.62h-4M78.5,329.83h4M632.5,329.83h-4M78.5,320.03h4M632.5,320.03h-4M78.5,310.24h6.5M632.5,310.24h-6.5M78.5,300.45h4M632.5,300.45h-4M78.5,290.66h4M632.5,290.66h-4M78.5,280.87h4M632.5,280.87h-4M78.5,271.08h4M632.5,271.08h-4M78.5,261.29h6.5M632.5,261.29h-6.5M78.5,251.49h4M632.5,251.49h-4M78.5,241.70h4M632.5,241.70h-4M78.5,231.91h4M632.5,231.91h-4M78.5,222.12h4M632.5,222.12h-4M78.5,212.33h6.5M632.5,212.33h-6.5M78.5,202.54h4M632.5,202.54h-4M78.5,192.75h4M632.5,192.75h-4M78.5,182.95h4M632.5,182.95h-4M78.5,173.16h4M632.5,173.16h-4M78.5,163.37h6.5M632.5,163.37h-6.5M78.5,153.58h4M632.5,153.58h-4M78.5,143.79h4M632.5,143.79h-4M78.5,134.00h4M632.5,134.00h-4M78.5,124.21h4M632.5,124.21h-4M78.5,114.41h6.5M632.5,114.41h-6.5M78.5,104.62h4M632.5,104.62h-4M78.5,94.83h4M632.5,94.83h-4M78.5,85.04h4M632.5,85.04h-4M78.5,75.25h4M632.5,75.25h-4M78.5,65.46h6.5M632.5,65.46h-6.5M78.5,55.67h4M632.5,55.67h-4M78.5,45.87h4M632.5,45.87h-4M78.5,36.08h4M632.5,36.08h-4M78.5,26.29h4M632.5,26.29h-4M78.5,16.50h6.5M632.5,16.50h-6.5" stroke="#000" stroke-opacity="0.46" stroke-width="1" fill="none"/>
<rect x="78.5" y="16.5" width="554.0" height="342.7" fill="none" stroke="#000" stroke-opacity="0.46" stroke-width="1"/>
<g font-family="Liberation Sans, sans-serif" font-weight="bold" fill="#000">
<text transform="translate(70.68,391.20) scale(0.97,1)" font-size="29" text-anchor="start">0</text>
<text transform="translate(149.82,391.20) scale(0.97,1)" font-size="29" text-anchor="start">2</text>
<text transform="translate(229.71,391.20) scale(0.8972,1)" font-size="29">4</text>
<text transform="translate(308.11,391.20) scale(0.97,1)" font-size="29" text-anchor="start">6</text>
<text transform="translate(387.25,391.20) scale(0.97,1)" font-size="29" text-anchor="start">8</text>
<path transform="translate(460.27,371.35) scale(1.0000)" d="M9.5,0V19.8H5.0V5.56Q3.08,7.49 0,8.42V4.99Q1.62,4.51 3.4,3.15Q5.2,1.8 5.9,0Z"/><text transform="translate(474.21,391.20) scale(0.97,1)" font-size="29" text-anchor="start">0</text>
<path transform="translate(539.41,371.35) scale(1.0000)" d="M9.5,0V19.8H5.0V5.56Q3.08,7.49 0,8.42V4.99Q1.62,4.51 3.4,3.15Q5.2,1.8 5.9,0Z"/><text transform="translate(553.36,391.20) scale(0.97,1)" font-size="29" text-anchor="start">2</text>
<path transform="translate(618.56,371.35) scale(1.0000)" d="M9.5,0V19.8H5.0V5.56Q3.08,7.49 0,8.42V4.99Q1.62,4.51 3.4,3.15Q5.2,1.8 5.9,0Z"/><text transform="translate(633.25,391.20) scale(0.8972,1)" font-size="29">4</text>
<text transform="translate(57.06,369.20) scale(0.97,1)" font-size="29" text-anchor="start">0</text>
<path transform="translate(59.31,299.99) scale(1.0000)" d="M9.5,0V19.8H5.0V5.56Q3.08,7.49 0,8.42V4.99Q1.62,4.51 3.4,3.15Q5.2,1.8 5.9,0Z"/>
<text transform="translate(57.06,271.29) scale(0.97,1)" font-size="29" text-anchor="start">2</text>
<text transform="translate(57.06,222.33) scale(0.97,1)" font-size="29" text-anchor="start">3</text>
<text transform="translate(57.81,173.37) scale(0.8972,1)" font-size="29">4</text>
<text transform="translate(57.06,124.41) scale(0.97,1)" font-size="29" text-anchor="start">5</text>
<text transform="translate(57.06,75.46) scale(0.97,1)" font-size="29" text-anchor="start">6</text>
<text transform="translate(57.06,26.50) scale(0.97,1)" font-size="29" text-anchor="start">7</text>
<text x="348.5" y="437.3" font-size="28" font-style="italic">r</text>
<rect x="349" y="416.2" width="15" height="2.5"/>
<g transform="translate(31,204.5) rotate(-90)">
<text x="1" y="0" font-size="28" font-style="italic">ρ</text>
<rect x="-0.1" y="-20.9" width="20.4" height="2.8"/>
<text transform="translate(19.1,-12.7) scale(0.84,1)" font-size="22" font-style="italic">C</text>
<text x="18.5" y="8" font-size="20" font-style="italic">Q</text>
</g>
<g fill="#141414">
<text transform="translate(455.3,49.9) scale(0.892,1)" font-size="25.8" font-style="italic">ω</text>
<text transform="translate(473.65,49.9) scale(0.97,0.88)" font-size="25.8">/</text>
<text transform="translate(480.10,49.90) scale(0.97,1)" font-size="25.8" text-anchor="start">m</text>
<text transform="translate(567.80,49.90) scale(0.97,1)" font-size="25.8" text-anchor="start">0</text><text transform="translate(581.72,49.90) scale(0.97,1)" font-size="25.8" text-anchor="start">.</text><text transform="translate(589.34,49.90) scale(0.8972,1)" font-size="25.8">4</text><text transform="translate(602.59,49.90) scale(0.97,1)" font-size="25.8" text-anchor="start">5</text>
<text transform="translate(567.80,95.90) scale(0.97,1)" font-size="25.8" text-anchor="start">0</text><text transform="translate(581.72,95.90) scale(0.97,1)" font-size="25.8" text-anchor="start">.</text><text transform="translate(589.34,95.90) scale(0.8972,1)" font-size="25.8">4</text><path transform="translate(604.10,78.23) scale(0.8897)" d="M9.5,0V19.8H5.0V5.56Q3.08,7.49 0,8.42V4.99Q1.62,4.51 3.4,3.15Q5.2,1.8 5.9,0Z"/>
</g>
</g>
<path d="M518.3,41.3H555" stroke="#a50000" stroke-width="3"/>
<path d="M518.3,86.5H555" stroke="#0000ff" stroke-width="3"/>
</svg>
</body></html>
